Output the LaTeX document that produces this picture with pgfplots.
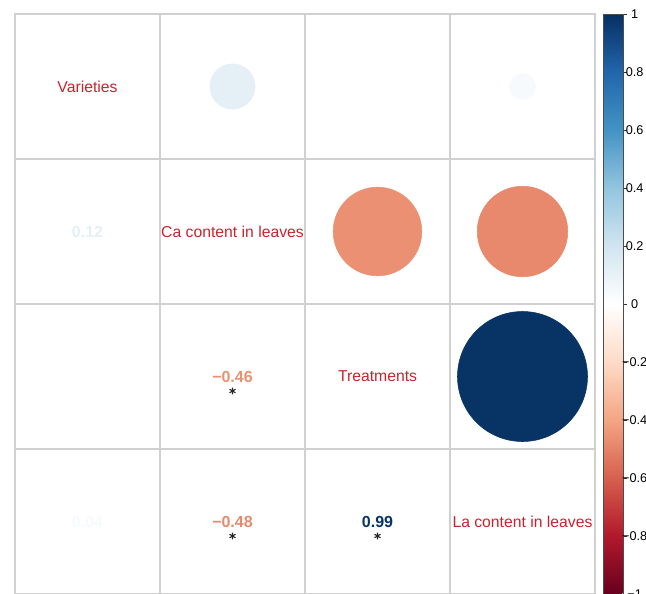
\documentclass[border=0pt]{standalone}
\usepackage{pgfplots}
\pgfplotsset{compat=1.18}
\usepackage{pgfplotstable}
\usepackage{fontspec}
\setmainfont{Liberation Sans}
\definecolor{lbl}{RGB}{200,35,45}
\definecolor{gridc}{RGB}{208,208,208}

\pgfplotstableread{
x y r
2 1 0.12
3 1 0.00
4 1 0.04
3 2 -0.46
4 2 -0.48
4 3 0.99
}\circles

\pgfplotstableread{
x y r lab
1 2 0.12 0.12
1 3 0.00 0
1 4 0.04 0.04
2 3 -0.46 −0.46
2 4 -0.48 −0.48
3 4 0.99 0.99
}\numbers

\begin{document}
\begin{tikzpicture}
\useasboundingbox (0,0) rectangle (484.5pt,444.75pt);
\begin{axis}[
  at={(11.25pt,-0.75pt)}, anchor=south west,
  width=435pt, height=435pt, scale only axis,
  xmin=0.5, xmax=4.5, ymin=0.5, ymax=4.5, y dir=reverse,
  xtick={0.5,1.5,2.5,3.5,4.5}, ytick={0.5,1.5,2.5,3.5,4.5},
  xticklabels={}, yticklabels={},
  major tick length=0pt,
  grid=major, major grid style={gridc, line width=1pt},
  axis line style={gridc, line width=1pt},
  colormap={RdBu}{rgb255=(103,0,31) rgb255=(178,24,43) rgb255=(214,96,77) rgb255=(244,165,130) rgb255=(253,219,199) rgb255=(255,255,255) rgb255=(209,229,240) rgb255=(146,197,222) rgb255=(67,147,195) rgb255=(33,102,172) rgb255=(5,48,97)},
  point meta min=-1, point meta max=1,
  colorbar,
  colorbar style={
    at={(parent axis.north east)}, anchor=north west, xshift=-2.25pt,
    width=15pt,
    ytick={-1,-0.8,-0.6,-0.4,-0.2,0,0.2,0.4,0.6,0.8,1},
    yticklabels={−1,−0.8,−0.6,−0.4,−0.2,0,0.2,0.4,0.6,0.8,1},
    yticklabel style={font=\fontsize{9.5}{11}\selectfont, anchor=center, xshift=5.5pt},
    ytick pos=right, tick align=outside, major tick length=3pt,
    axis line style={black!70, line width=0.5pt},
    tick style={black!80, line width=0.6pt},
  },
  clip=false,
]
\addplot[scatter, only marks, mark=*, point meta=\thisrow{r},
  scatter/use mapped color={draw=mapped color, fill=mapped color},
  visualization depends on={49*sqrt(abs(\thisrow{r}))\as\rad},
  scatter/@pre marker code/.append style={/tikz/mark size=\rad}]
  table[x=x,y=y] {\circles};

\addplot[only marks, mark=none, draw=none,
  point meta=explicit symbolic,
  visualization depends on={\thisrow{r}\as\rval},
  nodes near coords={\pgfmathtruncatemacro\cmv{(\rval+1)*500}\pgfplotscolormapdefinemappedcolor{\cmv}\textcolor{mapped color}{\pgfplotspointmeta}},
  nodes near coords align=center,
  every node near coord/.append style={font=\fontsize{12}{14}\selectfont\bfseries, anchor=center}]
  table[x=x,y=y,meta=lab] {\numbers};

\addplot[only marks, mark=asterisk, mark size=2.6pt, black!85, line width=0.8pt]
  coordinates {(2,3.1) (2,4.1) (3,4.1)};

\node[text=lbl, font=\fontsize{11.8}{14}\selectfont] at (axis cs:1,1) {Varieties};
\node[text=lbl, font=\fontsize{11.8}{14}\selectfont] at (axis cs:2,2) {Ca content in leaves};
\node[text=lbl, font=\fontsize{11.8}{14}\selectfont] at (axis cs:3,3) {Treatments};
\node[text=lbl, font=\fontsize{11.8}{14}\selectfont] at (axis cs:4,4) {La content in leaves};
\end{axis}
\end{tikzpicture}
\end{document}
